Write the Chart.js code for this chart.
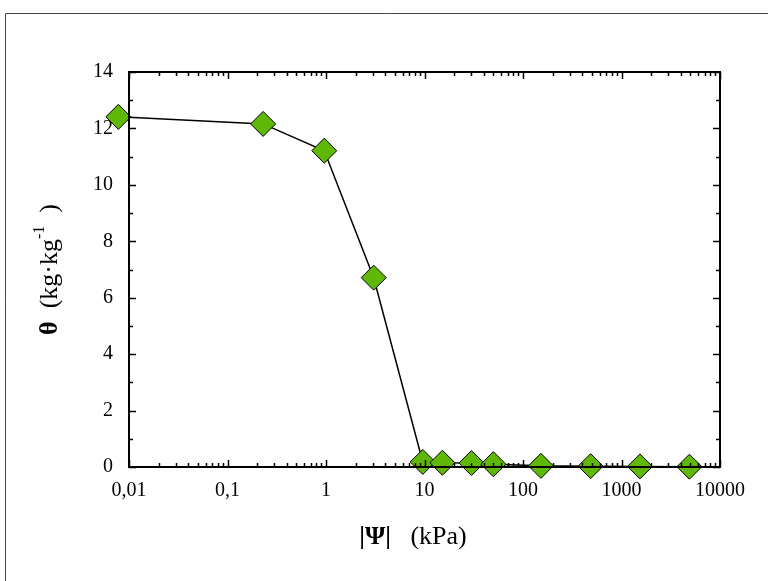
<!DOCTYPE html>
<html>
<head>
<meta charset="utf-8">
<script src="https://cdn.jsdelivr.net/npm/chart.js@4.4.1/dist/chart.umd.min.js"></script>
<style>
  html, body { margin: 0; padding: 0; background: #fff; }
  #wrap { width: 768px; height: 581px; position: relative; }
</style>
</head>
<body>
<div id="wrap"><canvas id="retentionChart"></canvas></div>
<script>
// |Ψ| (kPa) vs θ (kg·kg-1)
const psi = [0.0078, 0.23, 0.96, 3.05, 9.6, 15.2, 30, 50, 152, 486, 1540, 4890];
const theta = [12.41, 12.16, 11.21, 6.71, 0.18, 0.15, 0.14, 0.1, 0.04, 0.03, 0.02, 0.01];

const xTickValues = [0.01, 0.1, 1, 10, 100, 1000, 10000];
const xTickLabels = ["0,01", "0,1", "1", "10", "100", "1000", "10000"];
const yTickValues = [0, 2, 4, 6, 8, 10, 12, 14];

const serif = "'Liberation Serif', 'Times New Roman', serif";

// cadre, graduations vers l'intérieur et titres des axes
const framePlugin = {
  id: "framePlugin",
  beforeDraw(chart) {
    const ctx = chart.ctx;
    ctx.save();
    ctx.fillStyle = "#fff";
    ctx.fillRect(0, 0, chart.width, chart.height);
    ctx.strokeStyle = "#444";
    ctx.lineWidth = 1;
    ctx.beginPath();
    ctx.moveTo(5.5, chart.height);
    ctx.lineTo(5.5, 13.5);
    ctx.lineTo(chart.width, 13.5);
    ctx.stroke();
    ctx.restore();
  },
  afterDatasetsDraw(chart) {
    const ctx = chart.ctx;
    const a = chart.chartArea;
    const xs = chart.scales.x;
    const ys = chart.scales.y;
    ctx.save();
    ctx.strokeStyle = "#000";
    ctx.lineWidth = 1.5;
    ctx.beginPath();
    // y ticks
    for (let v = 0; v <= 14; v++) {
      const py = Math.round(ys.getPixelForValue(v)) + 0.5;
      const len = v % 2 === 0 ? 7 : 4;
      ctx.moveTo(a.left, py);
      ctx.lineTo(a.left + len, py);
      ctx.moveTo(a.right, py);
      ctx.lineTo(a.right - len, py);
    }
    // x ticks (log)
    for (let d = 0; d < xTickValues.length; d++) {
      const base = xTickValues[d];
      for (let m = 1; m <= 9; m++) {
        const v = base * m;
        if (v > 10000) break;
        const px = Math.round(xs.getPixelForValue(v)) + 0.5;
        const len = m === 1 ? 7 : 4;
        ctx.moveTo(px, a.bottom);
        ctx.lineTo(px, a.bottom - len);
        ctx.moveTo(px, a.top);
        ctx.lineTo(px, a.top + len);
      }
    }
    ctx.stroke();
    ctx.lineWidth = 2;
    ctx.strokeRect(a.left, a.top, a.right - a.left, a.bottom - a.top);

    // axis titles
    ctx.fillStyle = "#000";
    ctx.textBaseline = "middle";
    // x title: |Ψ|  (kPa)
    const cx = 413;
    const cy = 537;
    const p1 = "|Ψ|";
    const p2 = "   (kPa)";
    ctx.font = "bold 26px " + serif;
    const w1 = ctx.measureText(p1).width;
    ctx.font = "26px " + serif;
    const w2 = ctx.measureText(p2).width;
    const sx = cx - (w1 + w2) / 2;
    ctx.textAlign = "left";
    ctx.font = "bold 26px " + serif;
    ctx.fillText(p1, sx, cy);
    ctx.font = "26px " + serif;
    ctx.fillText(p2, sx + w1, cy);

    // y title: θ (kg·kg-1)
    ctx.translate(50, (a.top + a.bottom) / 2);
    ctx.rotate(-Math.PI / 2);
    const parts = [
      { t: "θ", f: "bold 26px " + serif, dy: 0 },
      { t: "  (kg·kg", f: "26px " + serif, dy: 0 },
      { t: "-1", f: "16px " + serif, dy: -10 },
      { t: "  )", f: "26px " + serif, dy: 0 },
    ];
    let total = 0;
    parts.forEach((p) => {
      ctx.font = p.f;
      p.w = ctx.measureText(p.t).width;
      total += p.w;
    });
    let tx = -total / 2;
    parts.forEach((p) => {
      ctx.font = p.f;
      ctx.fillText(p.t, tx, p.dy);
      tx += p.w;
    });
    ctx.restore();
  },
};

const ctx = document.getElementById("retentionChart").getContext("2d");
new Chart(ctx, {
  type: "scatter",
  data: {
    datasets: [
      {
        data: psi.map((x, i) => ({ x: x, y: theta[i] })),
        showLine: true,
        borderColor: "#000",
        borderWidth: 1.5,
        pointStyle: "rectRot",
        pointRadius: 12.5,
        pointHoverRadius: 12.5,
        pointBackgroundColor: "#5FB805",
        pointBorderColor: "#000",
        pointBorderWidth: 1,
        clip: false,
      },
    ],
  },
  options: {
    responsive: true,
    maintainAspectRatio: false,
    animation: false,
    layout: { padding: { left: 0, right: 48, top: 72, bottom: 0 } },
    plugins: {
      legend: { display: false },
      tooltip: { enabled: false },
    },
    scales: {
      x: {
        type: "logarithmic",
        min: 0.01,
        max: 10000,
        grid: { display: false, drawTicks: false },
        border: { display: false },
        afterBuildTicks: (scale) => {
          scale.ticks = xTickValues.map((v) => ({ value: v }));
        },
        afterFit: (scale) => {
          scale.height = 114;
        },
        ticks: {
          autoSkip: false,
          maxRotation: 0,
          padding: 12,
          color: "#000",
          font: { family: serif, size: 20 },
          callback: (value) => {
            const i = xTickValues.indexOf(value);
            return i >= 0 ? xTickLabels[i] : "";
          },
        },
      },
      y: {
        min: 0,
        max: 14,
        grid: { display: false, drawTicks: false },
        border: { display: false },
        afterBuildTicks: (scale) => {
          scale.ticks = yTickValues.map((v) => ({ value: v }));
        },
        afterFit: (scale) => {
          scale.width = 129;
        },
        ticks: {
          padding: 16,
          color: "#000",
          font: { family: serif, size: 20 },
        },
      },
    },
  },
  plugins: [framePlugin],
});
</script>
</body>
</html>
